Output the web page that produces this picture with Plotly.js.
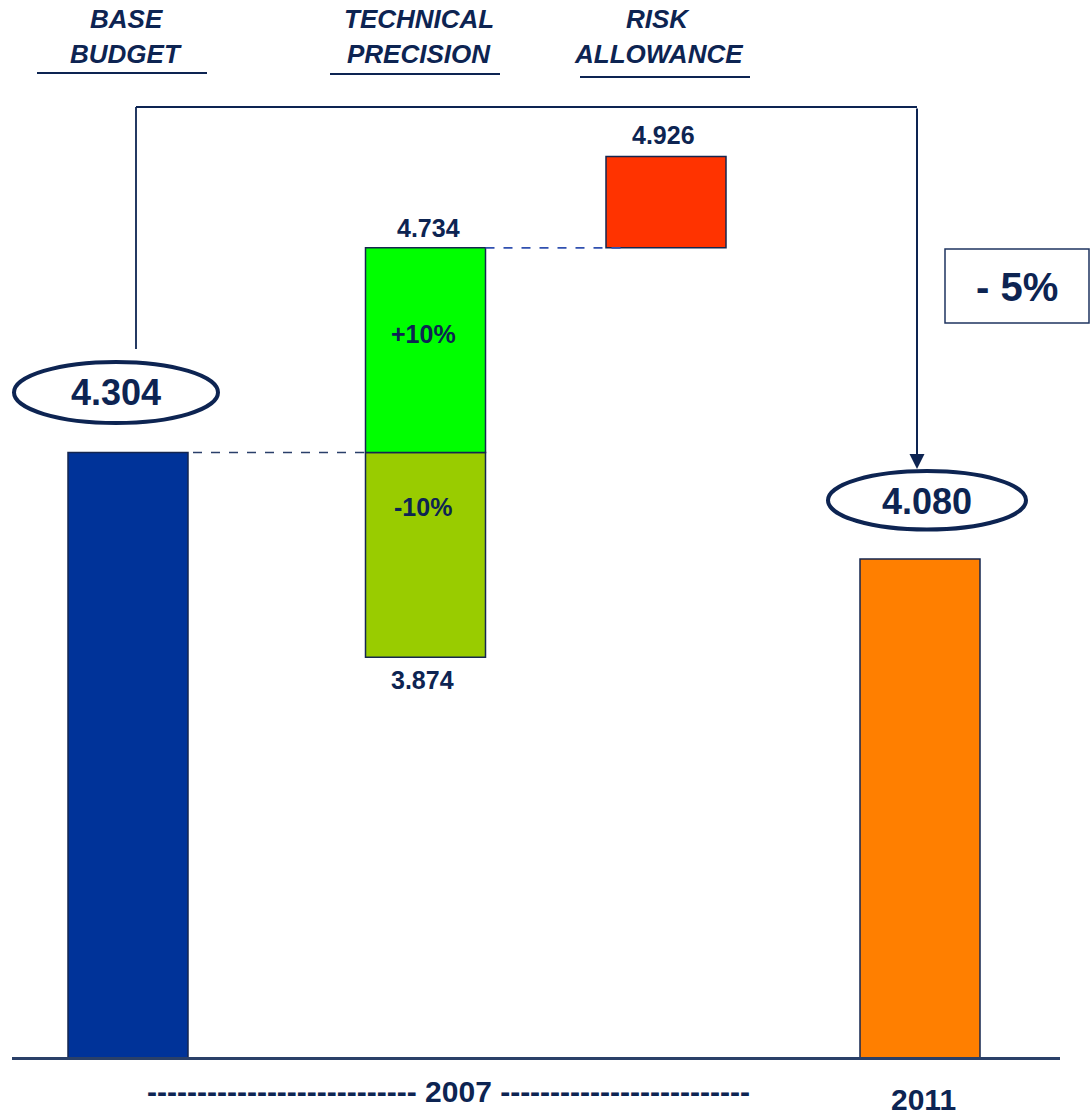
<!DOCTYPE html>
<html>
<head>
<meta charset="utf-8">
<script src="https://cdn.plot.ly/plotly-3.0.1.min.js"></script>
<style>html,body{margin:0;padding:0;background:#fff;}#chart{width:1090px;height:1120px;}</style>
</head>
<body>
<div id="chart"></div>
<script>
// ---------------- DATA ----------------
const categories = ["BASE BUDGET", "TECHNICAL PRECISION", "RISK ALLOWANCE", "2011"];
const headerLines = [["BASE", "BUDGET"], ["TECHNICAL", "PRECISION"], ["RISK", "ALLOWANCE"]];
const baseBudget2007 = 4.304;
const techPrecisionLow = 3.874;
const techPrecisionHigh = 4.734;
const riskAllowanceTop = 4.926;
const budget2011 = 4.080;
const techPctLabels = ["+10%", "-10%"];
const changeLabel = "- 5%";
const periodLabels = ["2007", "2011"];

// ---------------- LAYOUT CONSTANTS ----------------
const W = 1090, H = 1120;
const slotX = [128, 425.5, 666, 920];   // horizontal slot centres (x axis spans 0..W)
const barW = 120;
const yRange = [2.9014, 5.2548];
const yFloor = 3.0316;                   // value at the drawn baseline
const navy = "#0d2452";
const fontFam = "Liberation Sans, Arial, sans-serif";
const py = px => 1 - px / H;
const fmt = v => v.toFixed(3);
// pixel row of a value (plot area fills the page, margins are 0) - used only to anchor decorations
const toPx = v => (yRange[1] - v) / (yRange[1] - yRange[0]) * H;

// ---------------- BARS ----------------
const barX = [slotX[0], slotX[1], slotX[1], slotX[2], slotX[3]];
const barBase = [yFloor, techPrecisionLow, baseBudget2007, techPrecisionHigh, yFloor];
const barTop = [baseBudget2007, baseBudget2007, techPrecisionHigh, riskAllowanceTop, budget2011];
const barColors = ["#003399", "#99cc00", "#00ff00", "#ff3300", "#ff7f00"];

const traces = [{
  type: "bar",
  x: barX,
  base: barBase,
  y: barTop.map((t, i) => t - barBase[i]),
  width: barW,
  marker: { color: barColors, line: { color: "#14264f", width: 1.5 } },
  hoverinfo: "skip"
}];

// ellipse geometry (pixel offsets above the bar top)
const ell1 = { x0: 14, x1: 218, lo: 29.5, hi: 90.5 };
const ell2 = { x0: 828, x1: 1026, lo: 29.5, hi: 88 };
const bracketTop = 107;
const leftX = 136, rightX = 917;

// ---------------- SHAPES ----------------
const shapes = [];
// baseline
shapes.push({ type: "line", xref: "x", yref: "paper", x0: 12, x1: 1060, y0: py(1058.5), y1: py(1058.5),
  line: { color: "#2a4068", width: 3 } });
// header underlines
[[37, 207, 73], [330, 500, 74], [580, 750, 77]].forEach(u => shapes.push({
  type: "line", xref: "x", yref: "paper", x0: u[0], x1: u[1], y0: py(u[2]), y1: py(u[2]),
  line: { color: navy, width: 2.2 } }));
// bracket (left vertical + top horizontal)
const leftBottom = toPx(baseBudget2007) - ell1.hi - 13;
shapes.push({ type: "line", xref: "x", yref: "paper", x0: leftX, x1: leftX, y0: py(leftBottom), y1: py(bracketTop), line: { color: navy, width: 1.8 } });
shapes.push({ type: "line", xref: "x", yref: "paper", x0: leftX, x1: rightX, y0: py(bracketTop), y1: py(bracketTop), line: { color: navy, width: 1.8 } });
// dashed connectors
shapes.push({ type: "line", xref: "x", yref: "y", x0: slotX[0] + barW / 2 + 5, x1: slotX[1] - barW / 2, y0: baseBudget2007, y1: baseBudget2007,
  line: { color: "#2a3f6a", width: 1.5, dash: "dash" } });
shapes.push({ type: "line", xref: "x", yref: "y", x0: slotX[1] + barW / 2, x1: slotX[2] - barW / 2 + 21, y0: techPrecisionHigh, y1: techPrecisionHigh,
  line: { color: "#3050b0", width: 1.8, dash: "dash" } });
// ellipses around the totals
shapes.push({ type: "circle", xref: "x", yref: "y", ysizemode: "pixel", yanchor: baseBudget2007,
  x0: ell1.x0, x1: ell1.x1, y0: ell1.lo, y1: ell1.hi, line: { color: navy, width: 4 }, fillcolor: "rgba(0,0,0,0)" });
shapes.push({ type: "circle", xref: "x", yref: "y", ysizemode: "pixel", yanchor: budget2011,
  x0: ell2.x0, x1: ell2.x1, y0: ell2.lo, y1: ell2.hi, line: { color: navy, width: 4 }, fillcolor: "rgba(0,0,0,0)" });
// change box
shapes.push({ type: "rect", xref: "x", yref: "paper", x0: 945, x1: 1089, y0: py(249), y1: py(323),
  line: { color: "#1f3560", width: 1.5 }, fillcolor: "rgba(0,0,0,0)" });

// ---------------- ANNOTATIONS ----------------
const ann = [];
const txt = (x, y, text, size, opts) => Object.assign({
  x: x, y: y, xref: "x", yref: "y", text: text, showarrow: false,
  font: { family: fontFam, size: size, color: navy }, xanchor: "center", yanchor: "middle"
}, opts || {});

// headers
const headerCenters = [126, 419, 658];
const headerY = [19, 54];
headerLines.forEach((lines, i) => lines.forEach((l, j) =>
  ann.push(txt(headerCenters[i], py(headerY[j]), "<b><i>" + l + "</i></b>", 26, { yref: "paper" }))));

// value labels
ann.push(txt(slotX[0] - 12, baseBudget2007, "<b>" + fmt(baseBudget2007) + "</b>", 36, { yshift: 60 }));
ann.push(txt(slotX[3] + 7, budget2011, "<b>" + fmt(budget2011) + "</b>", 36, { yshift: 58 }));
ann.push(txt(slotX[1] + 3, techPrecisionHigh, "<b>" + fmt(techPrecisionHigh) + "</b>", 25, { yshift: 20 }));
ann.push(txt(slotX[1] - 3, techPrecisionLow, "<b>" + fmt(techPrecisionLow) + "</b>", 25, { yshift: -23 }));
ann.push(txt(slotX[2] - 3, riskAllowanceTop, "<b>" + fmt(riskAllowanceTop) + "</b>", 25, { yshift: 21 }));
ann.push(txt(slotX[1] - 2, techPrecisionHigh, "<b>" + techPctLabels[0] + "</b>", 25, { yshift: -86 }));
ann.push(txt(slotX[1] - 3, baseBudget2007, "<b>" + techPctLabels[1] + "</b>", 25, { yshift: -55 }));

// change box text
ann.push(txt(1017, py(287), "<b>" + changeLabel + "</b>", 40, { yref: "paper" }));

// arrow down to the 2011 total (tip just above its ellipse)
const tipPx = toPx(budget2011) - ell2.hi - 2;
ann.push({ x: rightX, y: py(tipPx), xref: "x", yref: "paper", ax: 0, ay: -(tipPx - bracketTop), text: "",
  showarrow: true, arrowhead: 2, arrowsize: 1.5, arrowwidth: 2, arrowcolor: navy });

// period labels
ann.push(txt(145, py(1091), "<b>" + "-".repeat(27) + " " + periodLabels[0] + " " + "-".repeat(25) + "</b>", 30,
  { yref: "paper", xanchor: "left" }));
ann.push(txt(923, py(1099), "<b>" + periodLabels[1] + "</b>", 30, { yref: "paper" }));

const layout = {
  width: W, height: H,
  margin: { l: 0, r: 0, t: 0, b: 0 },
  paper_bgcolor: "#ffffff", plot_bgcolor: "#ffffff",
  showlegend: false,
  barmode: "overlay",
  xaxis: { range: [0, W], visible: false, fixedrange: true },
  yaxis: { range: yRange, visible: false, fixedrange: true },
  shapes: shapes,
  annotations: ann,
  font: { family: fontFam, color: navy }
};

Plotly.newPlot("chart", traces, layout, { displayModeBar: false, staticPlot: true });
</script>
</body>
</html>
